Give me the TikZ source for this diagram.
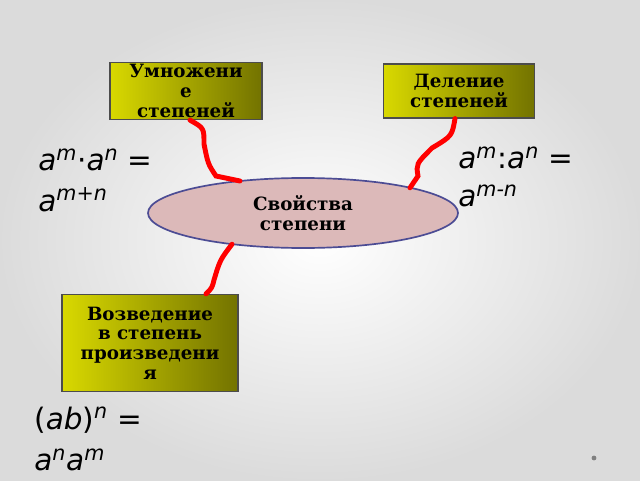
\documentclass[tikz,border=0pt]{standalone}
\usepackage{fontspec}
\setmainfont{DejaVu Serif}
\newfontfamily\formfont{DejaVu Sans}
\usetikzlibrary{calc,shapes.geometric}
\tikzset{%
	tema/.style={draw=black!70, line width=0.8pt, left color=yellow!85!black,
		right color=olive!90!black, align=center, font=\bfseries\fontsize{13}{14}\selectfont,
		inner sep=1pt},
	svyaz/.style={red, line width=3.5pt, line cap=round},
	formula/.style={anchor=west, font=\formfont\fontsize{21}{24}\selectfont, inner sep=0pt}
}
\newcommand{\stp}[1]{\textsuperscript{\itshape #1}}
\begin{document}
\begin{tikzpicture}
	\useasboundingbox (0,0) rectangle (16,12);
	\shade[inner color=white, outer color=gray!28] (0,0) rectangle (16,12);
	% themes
	\node [tema, minimum width=3.8cm, minimum height=1.43cm] (umn) at (4.65,9.725)
		{Умножени\\е\\степеней};
	\node [tema, minimum width=3.78cm, minimum height=1.35cm] (del) at (11.475,9.725)
		{Деление\\степеней};
	\node [tema, minimum width=4.4cm, minimum height=2.43cm] (voz) at (3.75,3.425)
		{Возведение\\в степень\\произведени\\я};
	\node [ellipse, draw=blue!40!black!70, line width=1.2pt, fill={rgb,255:red,220;green,185;blue,185},
		minimum width=7.75cm, minimum height=1.75cm, align=center,
		font=\bfseries\fontsize{13}{14}\selectfont] (svo) at (7.575,6.675) {Свойства\\степени};
	% links
	\coordinate (u1) at (5.1,8.4);
	\coordinate (u2) at (5.4,7.6);
	\coordinate (su) at ($(svo.center)+(-1.575,0.80)$);
	\coordinate (d1) at (10.8,8.3);
	\coordinate (d2) at (10.45,7.6);
	\coordinate (sd) at ($(svo.center)+(2.675,0.63)$);
	\coordinate (sv) at ($(svo.center)+(-1.775,-0.78)$);
	\coordinate (v1) at (5.35,5.0);
	\draw [svyaz] ($(umn.south)+(0.1,0)$) .. controls (5.1,8.8) .. (u1) .. controls (5.2,7.9) .. (u2) -- (su);
	\draw [svyaz] ($(del.south)+(-0.1,0)$) .. controls (11.3,8.6) .. (d1) .. controls (10.4,7.9) .. (d2) -- (sd);
	\draw [svyaz] (sv) .. controls (5.5,5.5) .. (v1) .. controls (5.3,4.8) .. ($(voz.north)+(1.4,0)$);
	% formulas
	\node [formula] (f1a) at (0.95,8.0) {\textit{a}\stp{m}·\textit{a}\stp{n} =};
	\node [formula] (f1b) at (0.95,7.0) {\textit{a}\stp{m+n}};
	\node [formula] (f2a) at (11.45,8.05) {\textit{a}\stp{m}:\textit{a}\stp{n} =};
	\node [formula] (f2b) at (11.45,7.1) {\textit{a}\stp{m-n}};
	\node [formula] (f3a) at (0.85,1.5) {(\textit{ab})\stp{n} =};
	\node [formula] (f3b) at (0.85,0.5) {\textit{a}\stp{n}\textit{a}\stp{m}};
	\fill [gray] (14.85,0.55) circle (0.06);
\end{tikzpicture}
\end{document}
